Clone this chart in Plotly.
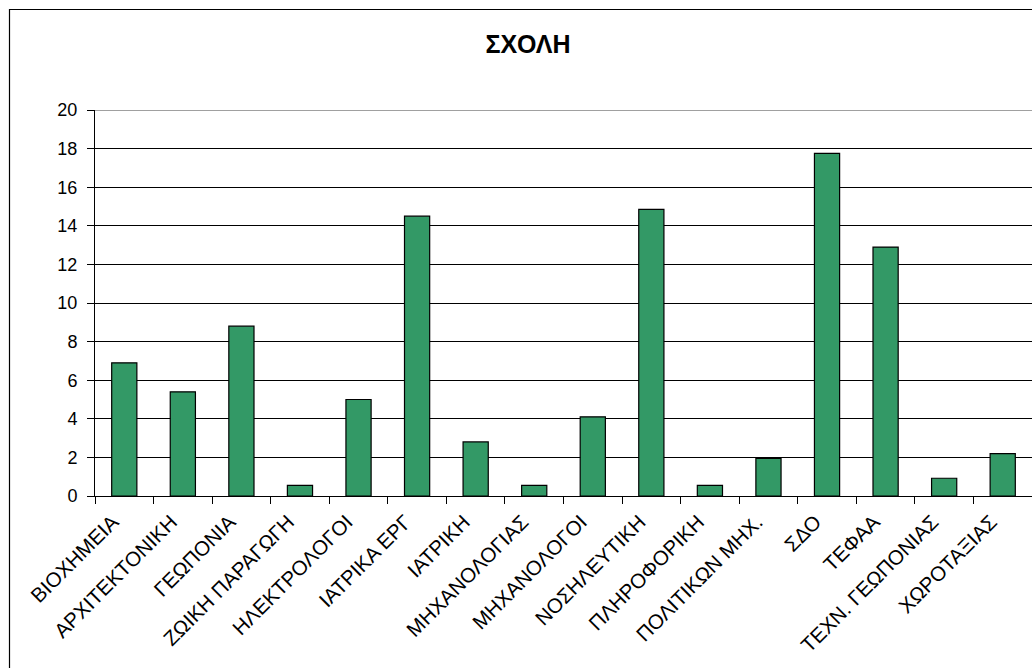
import plotly.graph_objects as go

categories = ["ΒΙΟΧΗΜΕΙΑ", "ΑΡΧΙΤΕΚΤΟΝΙΚΗ", "ΓΕΩΠΟΝΙΑ", "ΖΩΙΚΗ ΠΑΡΑΓΩΓΗ", "ΗΛΕΚΤΡΟΛΟΓΟΙ",
              "ΙΑΤΡΙΚΑ ΕΡΓ", "ΙΑΤΡΙΚΗ", "ΜΗΧΑΝΟΛΟΓΙΑΣ", "ΜΗΧΑΝΟΛΟΓΟΙ", "ΝΟΣΗΛΕΥΤΙΚΗ",
              "ΠΛΗΡΟΦΟΡΙΚΗ", "ΠΟΛΙΤΙΚΩΝ ΜΗΧ.", "ΣΔΟ", "ΤΕΦΑΑ", "ΤΕΧΝ. ΓΕΩΠΟΝΙΑΣ", "ΧΩΡΟΤΑΞΙΑΣ"]
values = [6.9, 5.4, 8.8, 0.55, 5.0, 14.5, 2.8, 0.55, 4.1, 14.85, 0.55, 1.95, 17.75, 12.9, 0.92, 2.2]
y_ticks = [0, 2, 4, 6, 8, 10, 12, 14, 16, 18, 20]
title_text = "ΣΧΟΛΗ"

FONT = "Arial, Liberation Sans, sans-serif"
n = len(categories)

fig = go.Figure()
fig.add_trace(go.Bar(
    x=categories, y=values,
    marker=dict(color="#339966", line=dict(color="#000000", width=1.2)),
    width=0.43, hoverinfo="x+y",
))
# empty helper trace so the label axis (x2) is drawn
fig.add_trace(go.Scatter(x=[], y=[], xaxis="x2", yaxis="y", showlegend=False, hoverinfo="skip"))

fig.update_layout(
    width=1032, height=668,
    margin=dict(l=95, r=0, t=110, b=172),
    paper_bgcolor="white", plot_bgcolor="white",
    showlegend=False,
    font=dict(family=FONT, size=18, color="black"),
    title=dict(text="<b>" + title_text + "</b>", x=0.5116, xref="container", xanchor="center",
               y=1 - 44 / 668, yref="container", yanchor="middle",
               font=dict(family=FONT, size=25, color="black")),
    xaxis=dict(
        type="category", range=[-0.5, n - 0.5],
        showline=True, linecolor="black", linewidth=1,
        ticks="outside", tickson="boundaries", ticklen=7, tickcolor="black", tickwidth=1,
        showticklabels=False, showgrid=False,
    ),
    xaxis2=dict(overlaying="x", anchor="y", side="bottom", range=[-0.5, n - 0.5],
                tickmode="array", tickvals=[i - 0.2 for i in range(n)], ticktext=categories,
                tickangle=-45, ticks="", showline=False, showgrid=False, zeroline=False,
                ticklabelstandoff=9,
                tickfont=dict(family=FONT, size=20.5, color="black")),
)

fig.update_yaxes(
    range=[0, 20], tickvals=y_ticks,
    showline=True, linecolor="black", linewidth=1,
    ticks="outside", ticklen=7, tickcolor="black", tickwidth=1,
    showgrid=True, gridcolor="black", gridwidth=1, zeroline=False,
    ticklabelstandoff=6,
    tickfont=dict(family=FONT, size=18, color="black"),
)

# grey plot-area top border at 20
fig.add_shape(type="line", xref="paper", yref="y", x0=0, x1=1, y0=20, y1=20,
              line=dict(color="#808080", width=1.5), layer="above")
# chart outer border (clipped at right/bottom like the reference)
fig.add_shape(type="rect", xref="paper", yref="paper",
              x0=(9.5 - 95) / 937, x1=1.05, y0=-0.6, y1=(496 - 9.5) / 386,
              line=dict(color="black", width=1.2), fillcolor="rgba(0,0,0,0)", layer="above")

fig.write_html("out.html", config={"displayModeBar": False},
               post_script="document.body.style.margin='0';document.body.style.overflow='hidden';")
